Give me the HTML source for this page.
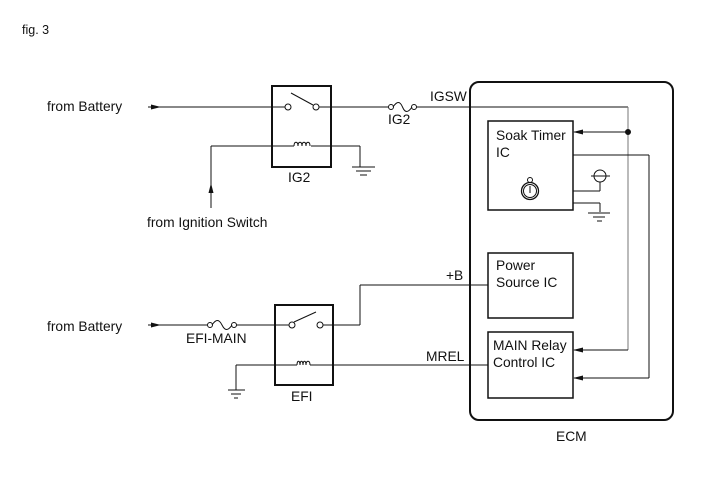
<!DOCTYPE html>
<html><head><style>body{margin:0;background:#fff}svg{display:block}text{font-family:"Liberation Sans",sans-serif;font-size:13.8px;fill:#111}</style></head><body>
<svg width="713" height="481" viewBox="0 0 713 481">
<defs><marker id="a" markerWidth="10" markerHeight="6" refX="9" refY="3" orient="auto" markerUnits="userSpaceOnUse"><path d="M0,0.5L10,3L0,5.5z" fill="#111"/></marker></defs>
<g stroke="#111" stroke-width="1" fill="none">
<text x="22" y="34" stroke="none" style="font-size:12.5px">fig. 3</text>
<!-- ECM -->
<rect x="470" y="82" width="203" height="338" rx="9" stroke-width="2"/>
<!-- top line -->
<line x1="148" y1="107" x2="272" y2="107"/>
<line x1="148" y1="107" x2="160" y2="107" marker-end="url(#a)"/>
<rect x="272" y="86" width="59" height="81" stroke-width="2"/>
<line x1="272" y1="107" x2="285" y2="107"/>
<circle cx="288" cy="107" r="3"/><circle cx="316" cy="107" r="3"/>
<line x1="291" y1="93" x2="313" y2="105"/>
<line x1="319" y1="107" x2="388" y2="107"/>
<circle cx="391" cy="107" r="2.5"/><circle cx="414" cy="107" r="2.5"/>
<path d="M393,107 C397,101 400,101 402.5,107 C405,113 408,113 412,107"/>
<line x1="416" y1="107" x2="628" y2="107"/>
<line x1="628" y1="107" x2="628" y2="350" stroke="#777"/>
<circle cx="628" cy="132" r="2.5" fill="#111"/>
<line x1="628" y1="132" x2="574" y2="132" marker-end="url(#a)"/>
<line x1="628" y1="350" x2="574" y2="350" marker-end="url(#a)"/>
<!-- coil top -->
<line x1="211" y1="146" x2="294" y2="146"/><line x1="311" y1="146" x2="360" y2="146"/>
<path d="M294,146 c0,-5 4,-5 4,0 c0,-5 4,-5 4,0 c0,-5 4,-5 4,0 c0,-5 4,-5 4,0"/>
<line x1="211" y1="146" x2="211" y2="208"/>
<line x1="211" y1="208" x2="211" y2="184" marker-end="url(#a)"/>
<line x1="360" y1="146" x2="360" y2="167"/>
<line x1="352" y1="167" x2="375" y2="167"/><line x1="356" y1="171" x2="371" y2="171"/><line x1="360" y1="175" x2="367" y2="175"/>
<!-- soak -->
<rect x="488" y="121" width="85" height="89" stroke-width="1.5"/>
<line x1="573" y1="155" x2="649" y2="155"/><line x1="649" y1="155" x2="649" y2="378"/>
<line x1="649" y1="378" x2="574" y2="378" marker-end="url(#a)"/>
<line x1="573" y1="191" x2="600" y2="191"/><line x1="600" y1="191" x2="600" y2="182"/>
<circle cx="600" cy="176" r="6"/><line x1="591" y1="176" x2="610" y2="176"/>
<line x1="573" y1="203" x2="600" y2="203"/><line x1="600" y1="203" x2="600" y2="212"/>
<line x1="588" y1="213" x2="610" y2="213"/><line x1="593" y1="217" x2="605" y2="217"/><line x1="597" y1="221" x2="602" y2="221"/>
<circle cx="530" cy="191" r="8.5" stroke-width="1.3"/><circle cx="530" cy="191" r="6.5"/><circle cx="530" cy="180" r="2.5"/><line x1="530" y1="186" x2="530" y2="193"/>
<!-- power & main -->
<rect x="488" y="253" width="85" height="65" stroke-width="1.5"/>
<rect x="488" y="332" width="85" height="66" stroke-width="1.5"/>
<!-- bottom -->
<line x1="148" y1="325" x2="207" y2="325"/>
<line x1="148" y1="325" x2="160" y2="325" marker-end="url(#a)"/>
<circle cx="210" cy="325" r="2.5"/><circle cx="234" cy="325" r="2.5"/>
<path d="M212,325 C216,319 219,319 222,325 C225,331 228,331 232,325"/>
<line x1="236" y1="325" x2="289" y2="325"/>
<rect x="275" y="305" width="58" height="80" stroke-width="2"/>
<circle cx="292" cy="325" r="3"/><circle cx="320" cy="325" r="3"/>
<line x1="294" y1="322" x2="316" y2="312"/>
<line x1="323" y1="325" x2="360" y2="325"/><line x1="360" y1="325" x2="360" y2="285"/><line x1="360" y1="285" x2="488" y2="285"/>
<line x1="236" y1="365" x2="297" y2="365"/><line x1="310" y1="365" x2="488" y2="365"/>
<path d="M297,365 c0,-5 3,-5 3,0 c0,-5 3,-5 3,0 c0,-5 3,-5 3,0 c0,-5 4,-5 4,0"/>
<line x1="236" y1="365" x2="236" y2="390"/>
<line x1="228" y1="390" x2="245" y2="390"/><line x1="231" y1="394" x2="241" y2="394"/><line x1="234" y1="398" x2="238" y2="398"/>
</g>
<text x="47" y="111">from Battery</text>
<text x="47" y="331">from Battery</text>
<text x="147" y="227">from Ignition Switch</text>
<text x="288" y="182">IG2</text>
<text x="388" y="124">IG2</text>
<text x="430" y="101">IGSW</text>
<text x="496" y="140">Soak Timer</text>
<text x="496" y="157">IC</text>
<text x="496" y="270">Power</text>
<text x="496" y="287">Source IC</text>
<text x="493" y="350">MAIN Relay</text>
<text x="493" y="367">Control IC</text>
<text x="446" y="280">+B</text>
<text x="426" y="361">MREL</text>
<text x="186" y="343">EFI-MAIN</text>
<text x="291" y="401">EFI</text>
<text x="556" y="441">ECM</text>
</svg>
</body></html>
